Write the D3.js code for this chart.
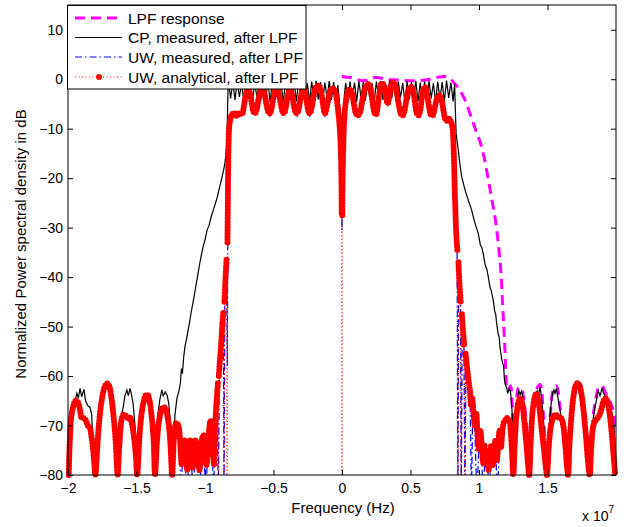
<!DOCTYPE html>
<html>
<head>
<meta charset="utf-8">
<script src="https://cdn.jsdelivr.net/npm/d3@7"></script>
<style>
body { margin: 0; background: #fff; }
</style>
</head>
<body>
<svg id="graph"></svg>
<script>
// frequency in units of 1e7 Hz, level in dB
var xTicks = [-2, -1.5, -1, -0.5, 0, 0.5, 1, 1.5]
var xTickLabels = ["\u22122", "\u22121.5", "\u22121", "\u22120.5", "0", "0.5", "1", "1.5"]
var yTicks = [-80, -70, -60, -50, -40, -30, -20, -10, 0, 10]
var yTickLabels = ["\u221280", "\u221270", "\u221260", "\u221250", "\u221240", "\u221230", "\u221220", "\u221210", "0", "10"]
var seriesNames = ["LPF response", "CP, measured, after LPF", "UW, measured, after LPF", "UW, analytical, after LPF"]

var lpfResponse = [[0,0.6],[0.03,0.4],[0.06,0.35],[0.1,0],[0.15,-0.3],[0.2,-0.1],[0.24,0.35],[0.29,0.2],[0.33,-0.1],[0.38,-0.1],
  [0.43,-0.2],[0.5,-0.3],[0.56,-0.3],[0.62,-0.1],[0.67,0.2],[0.72,0.5],[0.76,0.5],[0.79,0.1],[0.82,-0.8],[0.85,-1.8],
  [0.88,-3.2],[0.91,-5],[0.935,-7],[0.96,-9],[0.985,-11],[1.007,-12.6],[1.035,-15.5],[1.066,-20],[1.095,-24.5],[1.12,-28.5],
  [1.14,-33],[1.16,-39],[1.175,-47],[1.185,-52],[1.195,-58.5],[1.205,-62.5],[1.215,-62.8],[1.23,-62],[1.243,-66],[1.258,-80.5],
  [1.272,-68],[1.29,-62.3],[1.31,-62.5],[1.33,-65.5],[1.35,-71],[1.37,-80.5],[1.39,-68],[1.415,-63],[1.445,-61.7],[1.47,-68],
  [1.497,-80.5],[1.52,-68],[1.545,-62.5],[1.565,-62],[1.59,-66],[1.625,-74],[1.648,-80.5],[1.67,-69],[1.695,-62.5],[1.72,-61],
  [1.745,-63],[1.775,-70],[1.81,-80.5],[1.83,-69],[1.86,-63.5],[1.875,-62.3],[1.9,-62],[1.925,-63.5],[1.95,-64.8],[1.975,-66.5],[1.999,-70]]

var cpMeasured = [[-2,-80.5],[-1.995,-72],[-1.985,-67.5],[-1.973,-66.5],[-1.96,-65.5],[-1.949,-65],[-1.935,-63.5],[-1.925,-64.5],[-1.912,-62.5],[-1.9,-64.2],
  [-1.893,-63.5],[-1.883,-62.7],[-1.875,-64.5],[-1.869,-65.2],[-1.855,-66],[-1.84,-66.3],[-1.827,-67.8],[-1.818,-73.5],[-1.803,-80.5],
  [-1.79,-74],[-1.775,-67.5],[-1.76,-64],[-1.745,-62.7],[-1.73,-62.2],[-1.715,-61.6],[-1.7,-62.3],[-1.685,-64.5],[-1.67,-68],[-1.655,-73],[-1.645,-77],[-1.64,-80.5],
  [-1.625,-70],[-1.612,-68.3],[-1.595,-66],[-1.585,-64],[-1.57,-62.8],[-1.56,-64],[-1.547,-62.5],[-1.535,-64],[-1.525,-65.5],[-1.51,-70.3],[-1.49,-80.5],
  [-1.475,-71],[-1.455,-66.8],[-1.44,-65],[-1.42,-63.5],[-1.405,-64.2],[-1.39,-67],[-1.375,-73],[-1.362,-80.5],
  [-1.345,-68],[-1.33,-64.8],[-1.315,-62.8],[-1.305,-64],[-1.29,-63.2],[-1.275,-64],[-1.265,-65.5],[-1.25,-70],[-1.242,-73.5],[-1.235,-80.5],
  [-1.22,-68],[-1.205,-64.5],[-1.19,-63],[-1.18,-61.5],[-1.172,-58.5],[-1.165,-59.5],[-1.155,-56],[-1.146,-54],[-1.135,-52.5],[-1.125,-51],
  [-1.115,-49.5],[-1.1,-47],[-1.09,-45.5],[-1.08,-44],[-1.065,-41.5],[-1.055,-40],[-1.04,-37.5],[-1.03,-36],[-1.015,-34],[-1,-32.5],
  [-0.985,-30.5],[-0.97,-29.5],[-0.955,-27.8],[-0.94,-26.5],[-0.925,-25.2],[-0.91,-23.8],[-0.895,-22],[-0.88,-20.3],[-0.865,-18.5],[-0.855,-17],
  [-0.848,-15.5],[-0.842,-13],[-0.838,-10],[-0.835,-6],[-0.832,-2],
  [-0.829,-0.3],[-0.813,-3.9],[-0.797,-0.6],[-0.781,-4.2],[-0.765,-0.4],[-0.749,-3.6],[-0.733,-0.8],[-0.717,-4.4],[-0.701,-0.5],[-0.685,-3.8],
  [-0.669,-0.3],[-0.653,-4.5],[-0.637,-0.7],[-0.621,-3.7],[-0.605,-0.4],[-0.589,-4.1],[-0.573,-0.6],[-0.557,-3.9],[-0.541,-0.3],[-0.525,-4.6],
  [-0.509,-0.8],[-0.493,-3.8],[-0.477,-0.5],[-0.461,-4.2],[-0.445,-0.4],[-0.429,-4.7],[-0.413,-0.7],[-0.397,-3.6],[-0.381,-0.3],[-0.365,-4],
  [-0.349,-0.6],[-0.333,-4.5],[-0.317,-0.5],[-0.301,-3.7],[-0.285,-0.4],[-0.269,-4.3],[-0.253,-0.8],[-0.237,-4.6],[-0.221,-0.5],[-0.205,-3.9],
  [-0.189,-0.3],[-0.173,-4.1],[-0.157,-0.6],[-0.141,-4.4],[-0.125,-0.7],[-0.109,-3.8],[-0.093,-0.4],[-0.077,-4.2],[-0.061,-0.6],[-0.045,-4.5],
  [-0.03,-1.2],[-0.018,-4.8],[-0.009,-8],[0,-11],[0.009,-7.5],[0.018,-3],[0.027,-0.8],
  [0.043,-4.4],[0.059,-0.5],[0.075,-4],[0.091,-0.7],[0.107,-4.6],[0.123,-0.4],[0.139,-3.8],[0.155,-0.6],[0.171,-4.3],[0.187,-0.3],
  [0.203,-4],[0.219,-0.8],[0.235,-4.7],[0.251,-0.5],[0.267,-3.6],[0.283,-0.4],[0.299,-4.2],[0.315,-0.7],[0.331,-4.5],[0.347,-0.3],
  [0.363,-3.9],[0.379,-0.6],[0.395,-4.4],[0.411,-0.5],[0.427,-3.7],[0.443,-0.8],[0.459,-4.6],[0.475,-0.4],[0.491,-4.1],[0.507,-0.6],
  [0.523,-3.8],[0.539,-0.3],[0.555,-4.5],[0.571,-0.7],[0.587,-4],[0.603,-0.5],[0.619,-4.3],[0.635,-0.4],[0.651,-3.9],[0.667,-0.8],
  [0.683,-4.6],[0.699,-0.5],[0.715,-4.1],[0.731,-0.6],[0.747,-4.4],[0.763,-0.3],[0.779,-3.8],[0.795,-0.7],[0.811,-4.5],[0.822,-1],
  [0.827,-6],[0.833,-11],[0.849,-14.4],[0.862,-17.5],[0.874,-19.8],[0.89,-21.5],[0.905,-23],[0.922,-24.5],[0.935,-25.5],[0.947,-26.5],
  [0.96,-28],[0.975,-29.5],[0.995,-31.2],[1.01,-33.5],[1.02,-34],[1.031,-35.2],[1.045,-37.5],[1.058,-38.5],[1.068,-40],[1.08,-42],
  [1.09,-42.8],[1.104,-44.7],[1.115,-47],[1.122,-47.5],[1.129,-49.4],[1.14,-51.5],[1.148,-52.3],[1.153,-54.1],[1.165,-56.5],[1.173,-57.4],
  [1.18,-58],[1.185,-60.5],[1.19,-61.5],
  [1.2,-62.2],[1.21,-63.5],[1.22,-62.5],[1.23,-63.2],[1.24,-66.5],[1.25,-72],[1.258,-80.5],
  [1.268,-70],[1.28,-65.5],[1.29,-62.8],[1.3,-63.8],[1.31,-63],[1.322,-64.5],[1.335,-67],[1.35,-71],[1.362,-76],[1.37,-80.5],
  [1.38,-72],[1.395,-67],[1.41,-64],[1.425,-63],[1.435,-63.8],[1.445,-62.2],[1.455,-64],[1.465,-67],[1.478,-71.5],[1.49,-77],[1.497,-80.5],
  [1.51,-71],[1.525,-66],[1.537,-63.5],[1.547,-62.8],[1.555,-63.5],[1.565,-62.5],[1.578,-64.7],[1.592,-67],[1.61,-70],[1.63,-75],[1.648,-80.5],
  [1.66,-73],[1.675,-67],[1.69,-63.5],[1.705,-61.8],[1.72,-61.4],[1.735,-62],[1.75,-64],[1.765,-67.5],[1.78,-72],[1.795,-77],[1.81,-80.5],
  [1.82,-74],[1.832,-69],[1.845,-66.5],[1.861,-64.4],[1.869,-62.8],[1.883,-64],[1.898,-62.5],[1.92,-64.2],[1.942,-65.5],[1.97,-67.3],
  [1.985,-70],[1.993,-74],[1.999,-80.5]]

var uwMeasured = [[-2,-84],[-1.99,-75],[-1.975,-68],[-1.96,-66],[-1.93,-65.5],[-1.9,-68.5],[-1.87,-69.5],[-1.84,-71],[-1.82,-75],[-1.8,-85],
  [-1.78,-72],[-1.75,-64],[-1.715,-61.8],[-1.685,-64.5],[-1.66,-71],[-1.64,-85],[-1.62,-72],[-1.595,-68],[-1.565,-68.7],[-1.535,-70],
  [-1.51,-75],[-1.492,-85],[-1.47,-70],[-1.45,-65.8],[-1.42,-64],[-1.395,-66.5],[-1.375,-74],[-1.362,-85],[-1.34,-71],[-1.31,-66.5],
  [-1.28,-67],[-1.255,-73],[-1.237,-85],[-1.22,-74],[-1.2,-70],[-1.185,-76],[-1.175,-84],[-1.16,-74],[-1.145,-78],[-1.13,-85],
  [-1.115,-74],[-1.1,-77],[-1.085,-85],[-1.07,-73],[-1.055,-76],[-1.04,-85],[-1.025,-74],[-1.01,-72],[-0.995,-85],[-0.98,-75],
  [-0.965,-70],[-0.95,-72],[-0.937,-85],[-0.925,-68],[-0.912,-63],[-0.903,-85],[-0.895,-58],[-0.885,-54],[-0.875,-50],[-0.866,-47.5],
  [-0.861,-85],[-0.855,-43],[-0.848,-39],[-0.842,-36.5],[-0.837,-58],[-0.833,-25],[-0.83,-16],[-0.827,-12],[-0.82,-9],[-0.79,-7.3],
  [-0.76,-7.5],[-0.73,-7.6],[-0.686,-2.3],[-0.635,-7.4],[-0.579,-2.3],[-0.526,-7.4],[-0.474,-2.3],[-0.423,-7.4],[-0.38,-2.3],[-0.328,-7.4],
  [-0.28,-2.3],[-0.234,-7.4],[-0.17,-1.6],[-0.124,-7.4],[-0.06,-2.2],[-0.03,-6],[-0.015,-12],[-0.006,-20],[-0.002,-27],[0,-30.5],
  [0.002,-27],[0.006,-20],[0.015,-11],[0.03,-4.5],[0.058,-2.3],[0.115,-7.6],[0.19,-1.3],[0.248,-7.5],[0.29,-1],[0.333,-5.2],
  [0.372,-0.9],[0.443,-7.6],[0.509,-1.9],[0.56,-7.6],[0.606,-1.9],[0.662,-7.6],[0.715,-3.6],[0.77,-8.7],[0.8,-8.5],[0.81,-11],
  [0.82,-19],[0.83,-30],[0.84,-34],[0.846,-85],[0.852,-38],[0.865,-45],[0.87,-85],[0.878,-49],[0.89,-53],[0.897,-85],
  [0.905,-56],[0.92,-60],[0.935,-64],[0.945,-85],[0.955,-65],[0.97,-71],[0.985,-85],[1,-73],[1.015,-72],[1.03,-85],
  [1.045,-75],[1.06,-76],[1.075,-85],[1.09,-75],[1.105,-78],[1.12,-74],[1.135,-85],[1.15,-72],[1.165,-75],[1.18,-70],
  [1.2,-69],[1.22,-69.5],[1.235,-74],[1.25,-85],[1.265,-72],[1.3,-65],[1.33,-70],[1.366,-85],[1.39,-68],[1.418,-63.8],
  [1.445,-68],[1.475,-76],[1.496,-85],[1.52,-71],[1.555,-68.2],[1.6,-69],[1.63,-75],[1.65,-85],[1.675,-68.5],[1.72,-61.7],
  [1.765,-68],[1.79,-77],[1.808,-85],[1.835,-70.5],[1.88,-68.2],[1.925,-65],[1.955,-68.5],[1.98,-76],[1.995,-85]]

var uwAnalytical = [[-1.995,-80],[-1.985,-72],[-1.975,-68],[-1.96,-66],[-1.945,-65],[-1.93,-65.2],[-1.915,-66.5],[-1.9,-68.5],[-1.885,-68.5],[-1.87,-69],
  [-1.855,-70],[-1.84,-70.5],[-1.83,-72],[-1.82,-74],[-1.81,-77],[-1.8,-80],
  [-1.79,-76],[-1.775,-70],[-1.76,-66],[-1.745,-63.5],[-1.73,-62],[-1.715,-61.5],[-1.7,-62],[-1.685,-64],[-1.67,-67.5],[-1.655,-72],[-1.645,-77],[-1.638,-80],
  [-1.625,-74],[-1.61,-69],[-1.595,-67.8],[-1.58,-68],[-1.565,-68.5],[-1.55,-68.3],[-1.535,-69.5],[-1.52,-72],[-1.505,-76],[-1.495,-80],
  [-1.48,-73],[-1.465,-68],[-1.45,-65.5],[-1.435,-64],[-1.42,-63.8],[-1.405,-65],[-1.39,-68],[-1.375,-73],[-1.365,-80],
  [-1.35,-73],[-1.335,-69],[-1.32,-67],[-1.305,-66.3],[-1.29,-66.5],[-1.275,-68],[-1.26,-71],[-1.25,-75],[-1.24,-80],
  [-1.225,-72],[-1.21,-69.5],[-1.195,-70],[-1.18,-74],[-1.17,-78],[-1.16,-75],[-1.15,-73],[-1.14,-76],[-1.13,-79],[-1.12,-74],
  [-1.11,-73],[-1.1,-75.5],[-1.09,-78.5],[-1.08,-75],[-1.07,-73],[-1.06,-74],[-1.05,-77],[-1.04,-79],[-1.03,-75],[-1.02,-72.5],
  [-1.01,-72],[-1,-74],[-0.99,-78],[-0.98,-76],[-0.97,-71],[-0.96,-69],[-0.95,-70],[-0.94,-74],[-0.935,-78],[-0.928,-72],
  [-0.92,-67],[-0.915,-65],[-0.91,-63],[-0.905,-61],[-0.902,-200],[-0.899,-60],[-0.893,-57.5],[-0.886,-55],[-0.879,-52],[-0.872,-49],
  [-0.866,-47],[-0.862,-200],[-0.858,-45],[-0.854,-42.5],[-0.85,-40],[-0.846,-38],[-0.842,-36],[-0.839,-200],[-0.836,-33],[-0.834,-27],
  [-0.832,-21],[-0.83,-16.5],[-0.828,-13],[-0.825,-10.5],
  [-0.818,-8.5],[-0.805,-7.2],[-0.79,-6.8],[-0.775,-7.4],[-0.76,-7],[-0.745,-6.8],[-0.73,-7.1],[-0.715,-5.2],[-0.7,-3],[-0.686,-2],
  [-0.672,-2.8],[-0.658,-5],[-0.645,-6.6],[-0.635,-6.9],[-0.622,-6],[-0.608,-3.8],[-0.593,-2.2],[-0.579,-2],[-0.565,-3],[-0.55,-5.3],
  [-0.537,-6.6],[-0.526,-6.9],[-0.513,-5.8],[-0.5,-3.6],[-0.487,-2.2],[-0.474,-2],[-0.46,-3],[-0.447,-5],[-0.435,-6.5],[-0.423,-6.9],
  [-0.41,-5.6],[-0.395,-3.2],[-0.38,-2],[-0.367,-2.8],[-0.353,-5],[-0.34,-6.6],[-0.328,-6.9],[-0.315,-5.8],[-0.3,-3.5],[-0.29,-2.3],
  [-0.28,-2],[-0.268,-2.8],[-0.255,-5],[-0.244,-6.6],[-0.234,-6.9],[-0.22,-5.5],[-0.205,-3],[-0.19,-1.6],[-0.17,-1.3],[-0.155,-2.3],
  [-0.14,-4.8],[-0.13,-6.5],[-0.124,-6.9],[-0.11,-5.5],[-0.095,-3.2],[-0.078,-2],[-0.06,-1.9],[-0.045,-3],[-0.032,-5.5],[-0.022,-8],
  [-0.014,-11],[-0.008,-15],[-0.004,-21],[-0.002,-27.5],[0,-200],
  [0.002,-27.5],[0.004,-21],[0.008,-15],[0.014,-9.5],[0.022,-6],[0.032,-4],[0.045,-2.5],[0.058,-2],[0.072,-2.8],[0.087,-5],
  [0.1,-6.8],[0.115,-7.3],[0.13,-6.8],[0.145,-4.8],[0.16,-2.8],[0.175,-1.4],[0.19,-1],[0.205,-1.6],[0.22,-4],[0.235,-6.6],
  [0.248,-7.2],[0.26,-5.5],[0.275,-2.5],[0.29,-0.8],[0.305,-1.2],[0.32,-3.2],[0.333,-4.9],[0.345,-3.5],[0.358,-1.3],[0.372,-0.6],
  [0.387,-1.2],[0.4,-2.8],[0.415,-5.2],[0.43,-7],[0.443,-7.3],[0.455,-6.5],[0.468,-4.5],[0.482,-2.5],[0.495,-1.7],[0.509,-1.6],
  [0.522,-2.8],[0.535,-5.2],[0.548,-7],[0.56,-7.3],[0.572,-6],[0.585,-3.5],[0.596,-2],[0.606,-1.6],[0.62,-2.8],[0.635,-5.5],
  [0.65,-7.2],[0.662,-7.3],[0.675,-6],[0.69,-4.2],[0.703,-3.4],[0.715,-3.3],[0.728,-4.3],[0.742,-6.5],[0.757,-8.2],[0.77,-8.4],
  [0.782,-8],[0.795,-8.6],[0.805,-9.5],
  [0.81,-11],[0.815,-14],[0.82,-19],[0.826,-25],[0.832,-30],[0.838,-33],[0.843,-35],[0.846,-200],[0.85,-37],[0.855,-40],
  [0.86,-42.5],[0.866,-45],[0.87,-200],[0.875,-47.5],[0.881,-50],[0.887,-52],[0.893,-54],[0.897,-200],[0.902,-55.5],[0.91,-57.5],
  [0.918,-59.5],[0.926,-61.5],[0.934,-63],[0.942,-66],[0.95,-64.5],[0.96,-67.5],[0.97,-70],[0.98,-67.5],[0.99,-72],[1,-75],
  [1.01,-71],[1.02,-74],[1.03,-77.5],[1.04,-74],[1.05,-78],[1.06,-75],[1.07,-79],[1.08,-76],[1.09,-74],[1.1,-78],
  [1.11,-76],[1.12,-73],[1.13,-77],[1.14,-74],[1.15,-71],[1.16,-74.5],[1.17,-71.5],[1.18,-69.5],[1.19,-69],[1.205,-68.5],
  [1.22,-68.8],[1.232,-71.5],[1.242,-76],[1.25,-80],
  [1.262,-73],[1.275,-67.5],[1.29,-65],[1.3,-64.5],[1.315,-65.5],[1.33,-69],[1.345,-73.5],[1.357,-77.5],[1.366,-80],
  [1.378,-73],[1.39,-67.5],[1.405,-64.5],[1.418,-63.5],[1.43,-64.5],[1.445,-67.5],[1.46,-71.5],[1.475,-75],[1.488,-78.5],[1.496,-80],
  [1.51,-74],[1.525,-70],[1.54,-68.5],[1.555,-67.8],[1.57,-68],[1.585,-68.5],[1.6,-68.5],[1.615,-70],[1.63,-74],[1.643,-78.5],[1.65,-80],
  [1.66,-74],[1.675,-68],[1.69,-64],[1.705,-62],[1.72,-61.4],[1.735,-62],[1.75,-64],[1.765,-67.5],[1.78,-72],[1.795,-77],[1.808,-80],
  [1.82,-74],[1.835,-70],[1.85,-69],[1.865,-68.5],[1.88,-67.8],[1.895,-66.5],[1.91,-65],[1.925,-64.5],[1.94,-65.5],[1.955,-68],
  [1.97,-72],[1.985,-77],[1.995,-80]]

var width = 633
var height = 527
var font = "'Liberation Sans', Arial, Helvetica, sans-serif"

var xScale = d3.scaleLinear().domain([-2, 2]).range([68, 616])
var yScale = d3.scaleLinear().domain([-80, 15]).range([475, 5])

var svg = d3.select("#graph")
  .attr("width", width)
  .attr("height", height)

svg.append("rect").attr("width", width).attr("height", height).attr("fill", "#fff")

var defs = svg.append("defs")
defs.append("clipPath").attr("id", "plotclip")
  .append("rect").attr("x", 68).attr("y", 5).attr("width", 548).attr("height", 470)
defs.append("clipPath").attr("id", "markclip")
  .append("rect").attr("x", 66).attr("y", 5).attr("width", 552).attr("height", 473)

var line = d3.line()
  .x(function(d) {return xScale(d[0])})
  .y(function(d) {return yScale(d[1])})
var smooth = d3.line()
  .x(function(d) {return xScale(d[0])})
  .y(function(d) {return yScale(d[1])})
  .curve(d3.curveCatmullRom.alpha(0.5))

var plot = svg.append("g").attr("clip-path", "url(#plotclip)")

plot.append("path").datum(lpfResponse)
  .attr("d", smooth)
  .attr("fill", "none")
  .attr("stroke", "#ff00ff")
  .attr("stroke-width", 3)
  .attr("stroke-dasharray", "10,6")

plot.append("path").datum(cpMeasured)
  .attr("d", line)
  .attr("fill", "none")
  .attr("stroke", "#000")
  .attr("stroke-width", 1.2)

plot.append("path").datum(uwMeasured)
  .attr("d", line)
  .attr("fill", "none")
  .attr("stroke", "#0000ff")
  .attr("stroke-width", 1.2)
  .attr("stroke-dasharray", "7,3,1.5,3")

// thin dotted line (reaches down where the analytical value is very deep)
plot.append("path").datum(uwAnalytical)
  .attr("d", line)
  .attr("fill", "none")
  .attr("stroke", "#ff0000")
  .attr("stroke-width", 1)
  .attr("stroke-dasharray", "1,2.5")

// dense dot markers along the curve
svg.append("g").attr("clip-path", "url(#markclip)")
  .append("path").datum(uwAnalytical)
  .attr("d", smooth.defined(function(d) {return d[1] > -100}))
  .attr("fill", "none")
  .attr("stroke", "#ff0000")
  .attr("stroke-width", 6)
  .attr("stroke-linecap", "round")
  .attr("stroke-dasharray", "0,3")

// axes box
svg.append("rect")
  .attr("x", 68).attr("y", 5).attr("width", 548).attr("height", 470)
  .attr("fill", "none").attr("stroke", "#000").attr("stroke-width", 1)

var xAxis = svg.append("g").attr("transform", "translate(0,475)")
  .call(d3.axisBottom(xScale).tickValues(xTicks)
    .tickFormat(function(d, i) {return xTickLabels[i]})
    .tickSize(-5).tickSizeOuter(0).tickPadding(8))
var yAxis = svg.append("g").attr("transform", "translate(68,0)")
  .call(d3.axisLeft(yScale).tickValues(yTicks)
    .tickFormat(function(d, i) {return yTickLabels[i]})
    .tickSize(-5).tickSizeOuter(0).tickPadding(5))
svg.append("g").attr("transform", "translate(0,5)")
  .call(d3.axisTop(xScale).tickValues(xTicks).tickFormat("").tickSize(-5).tickSizeOuter(0))
svg.append("g").attr("transform", "translate(616,0)")
  .call(d3.axisRight(yScale).tickValues(yTicks).tickFormat("").tickSize(-5).tickSizeOuter(0))

svg.selectAll(".domain").remove()
svg.selectAll(".tick line").attr("stroke", "#000")
svg.selectAll(".tick text").attr("fill", "#000").attr("font-size", 14).attr("font-family", font)

svg.append("text")
  .attr("x", 343).attr("y", 513)
  .attr("text-anchor", "middle")
  .attr("font-family", font).attr("font-size", 15)
  .text("Frequency (Hz)")

var mult = svg.append("text")
  .attr("x", 582).attr("y", 521)
  .attr("font-family", font).attr("font-size", 14)
mult.append("tspan").text("x 10")
mult.append("tspan").attr("dy", -8).attr("font-size", 10).text("7")

svg.append("text")
  .attr("transform", "translate(26,244) rotate(-90)")
  .attr("text-anchor", "middle")
  .attr("font-family", font).attr("font-size", 15)
  .text("Normalized Power spectral density in dB")

// legend
var legend = svg.append("g")
legend.append("rect")
  .attr("x", 67.5).attr("y", 5.5).attr("width", 238.5).attr("height", 83.5)
  .attr("fill", "#fff").attr("stroke", "#000").attr("stroke-width", 1)
var legendY = [18, 37.5, 57, 77]
var legendStyles = [
  {stroke: "#ff00ff", width: 3, dash: "10,6"},
  {stroke: "#000", width: 1.2, dash: null},
  {stroke: "#0000ff", width: 1.2, dash: "7,3,1.5,3"},
  {stroke: "#ff0000", width: 1, dash: "1,2.5"}
]
seriesNames.forEach(function(name, i) {
  var st = legendStyles[i]
  legend.append("line")
    .attr("x1", 75).attr("x2", 122)
    .attr("y1", legendY[i]).attr("y2", legendY[i])
    .attr("stroke", st.stroke).attr("stroke-width", st.width)
    .attr("stroke-dasharray", st.dash)
  legend.append("text")
    .attr("x", 128).attr("y", legendY[i] + 5.5)
    .attr("font-family", font).attr("font-size", 15.5)
    .text(name)
})
legend.append("circle")
  .attr("cx", 99).attr("cy", legendY[3]).attr("r", 3)
  .attr("fill", "#ff0000")
</script>
</body>
</html>
